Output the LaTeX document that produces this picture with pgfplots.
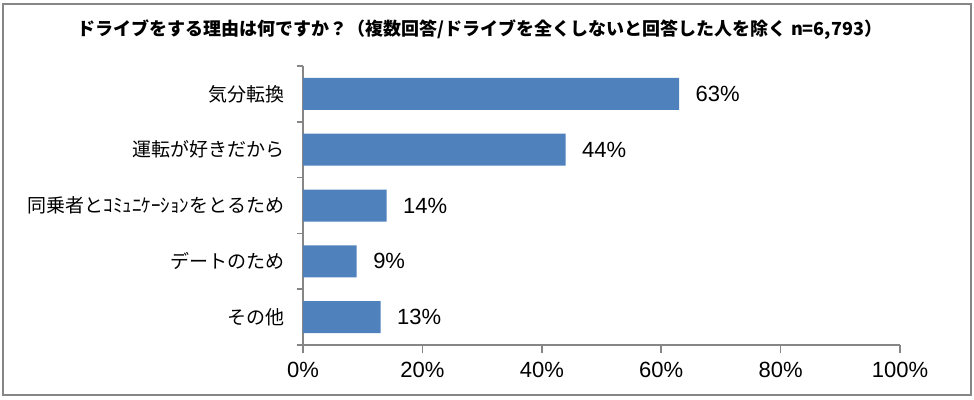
\documentclass[border=0pt]{standalone}
\usepackage{pgfplots}
\pgfplotsset{compat=1.18}
\usepackage{fontspec}
\setmainfont{Noto Sans CJK JP}
\newfontfamily\numfont{Liberation Sans}
\definecolor{barblue}{HTML}{4F81BD}
\definecolor{axgray}{HTML}{868686}
\begin{document}
\begin{tikzpicture}
\path[use as bounding box] (0pt,0pt) rectangle (974pt,399pt);
\draw[axgray, line width=2pt] (3pt,4pt) rectangle (971pt,395pt);
\node[font=\bfseries\fontsize{18}{21}\selectfont] at (480pt,369pt) {ドライブをする理由は何ですか？（複数回答/ドライブを全くしないと回答した人を除く n=6,793）};
\begin{axis}[
  at={(303pt,54pt)}, anchor=south west,
  scale only axis, width=597pt, height=279pt,
  /pgf/number format/assume math mode=true,
  xbar, bar width=32pt,
  xmin=0, xmax=100, ymin=0.5, ymax=5.5, y dir=reverse,
  axis x line*=bottom, axis y line*=left,
  axis line style={axgray, line width=1.5pt},
  xtick={0,20,40,60,80,100},
  xticklabels={0\%,20\%,40\%,60\%,80\%,100\%},
  xticklabel style={font=\numfont\fontsize{22}{26}\selectfont, yshift=-6pt},
  x tick style={axgray, line width=1.5pt},
  major tick length=8pt, tick align=outside,
  ytick={1,2,3,4,5},
  yticklabels={気分転換,運転が好きだから,同乗者とｺﾐｭﾆｹｰｼｮﾝをとるため,デートのため,その他},
  y tick style={draw=none},
  yticklabel style={font=\fontsize{19}{23}\selectfont, xshift=-7pt},
  extra y ticks={0.5,1.5,2.5,3.5,4.5,5.5},
  extra y tick labels={},
  extra y tick style={y tick style={axgray, line width=1.5pt, draw=axgray}, major tick length=6pt},
  nodes near coords={\pgfmathprintnumber{\pgfplotspointmeta}\%},
  point meta=x,
  nodes near coords style={font=\numfont\fontsize{22}{26}\selectfont, anchor=west, xshift=13pt, text=black},
  clip=false,
]
\addplot[fill=barblue, draw=none] coordinates {(63,1) (44,2) (14,3) (9,4) (13,5)};
\end{axis}
\end{tikzpicture}
\end{document}
